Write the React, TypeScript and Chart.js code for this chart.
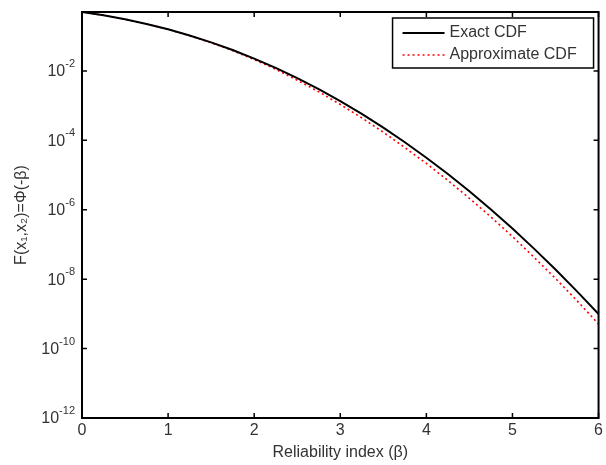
import React, { useEffect, useRef } from "react";
import { Chart, registerables } from "chart.js";

Chart.register(...registerables);

const beta = [0, 0.25, 0.5, 0.75, 1, 1.25, 1.5, 1.75, 2, 2.25, 2.5, 2.75, 3, 3.25, 3.5, 3.75, 4, 4.25, 4.5, 4.75, 5, 5.25, 5.5, 5.75, 6];
const exactCdf = [0.5, 0.4013, 0.3085, 0.2266, 0.1587, 0.1056, 0.0668, 0.0401, 0.02275, 0.01222, 0.00621, 0.00298, 0.00135, 5.77e-4, 2.33e-4, 8.84e-5, 3.17e-5, 1.07e-5, 3.4e-6, 1.02e-6, 2.87e-7, 7.6e-8, 1.9e-8, 4.46e-9, 9.87e-10];
const approxCdf = [0.5, 0.4013, 0.3085, 0.226, 0.1575, 0.104, 0.065, 0.0385, 0.0213, 0.0112, 0.0054, 0.00252, 0.00108, 4.45e-4, 1.72e-4, 6.2e-5, 2.16e-5, 7.0e-6, 2.14e-6, 6.2e-7, 1.69e-7, 4.3e-8, 1.05e-8, 2.4e-9, 5.1e-10];
const xTickValues = [0, 1, 2, 3, 4, 5, 6];
const yTickExponents = [-12, -10, -8, -6, -4, -2];
const seriesLabels = ["Exact CDF", "Approximate CDF"];
const xTitle = "Reliability index (β)";
const yTitle = "F(x₁,x₂)=Φ(-β)";

const FONT = "'Liberation Sans', Arial, sans-serif";
const TEXT = "#333333";

const framePlugin = {
  id: "matlabFrame",
  afterDraw(chart: any) {
    const { ctx, chartArea: a, scales } = chart;
    const tl = 5;
    ctx.save();
    ctx.strokeStyle = "#000";
    ctx.lineWidth = 1.5;
    ctx.beginPath();
    for (const v of xTickValues) {
      const px = scales.x.getPixelForValue(v);
      ctx.moveTo(px, a.bottom);
      ctx.lineTo(px, a.bottom - tl);
      ctx.moveTo(px, a.top);
      ctx.lineTo(px, a.top + tl);
    }
    for (const e of yTickExponents) {
      const py = scales.y.getPixelForValue(Math.pow(10, e));
      ctx.moveTo(a.left, py);
      ctx.lineTo(a.left + tl, py);
      ctx.moveTo(a.right, py);
      ctx.lineTo(a.right - tl, py);
    }
    ctx.stroke();
    ctx.lineWidth = 2;
    ctx.strokeRect(a.left, a.top, a.right - a.left, a.bottom - a.top);

    // y tick labels: base 10 with superscript exponent
    ctx.fillStyle = TEXT;
    ctx.textBaseline = "middle";
    for (const e of yTickExponents) {
      const py = scales.y.getPixelForValue(Math.pow(10, e));
      const expStr = String(e);
      ctx.font = `11px ${FONT}`;
      const ew = ctx.measureText(expStr).width;
      const right = a.left - 7;
      ctx.textAlign = "left";
      ctx.fillText(expStr, right - ew, py - 7);
      ctx.font = `16px ${FONT}`;
      ctx.textAlign = "right";
      ctx.fillText("10", right - ew, py + 1);
    }

    // legend
    const w = 201, h = 50;
    const lx = a.right - 5 - w;
    const ly = a.top + 6;
    ctx.fillStyle = "#fff";
    ctx.fillRect(lx, ly, w, h);
    ctx.lineWidth = 1.5;
    ctx.strokeStyle = "#000";
    ctx.strokeRect(lx, ly, w, h);
    const rows = [ly + 15, ly + 37];
    chart.data.datasets.forEach((ds: any, i: number) => {
      ctx.save();
      ctx.strokeStyle = ds.borderColor;
      ctx.lineWidth = ds.borderWidth;
      ctx.setLineDash(ds.borderDash || []);
      ctx.beginPath();
      ctx.moveTo(lx + 10, rows[i]);
      ctx.lineTo(lx + 52, rows[i]);
      ctx.stroke();
      ctx.restore();
      ctx.fillStyle = TEXT;
      ctx.font = `16px ${FONT}`;
      ctx.textBaseline = "middle";
      ctx.textAlign = "left";
      ctx.fillText(ds.label, lx + 57, rows[i]);
    });
    ctx.restore();
  },
};

export default function App() {
  const ref = useRef<HTMLCanvasElement | null>(null);
  useEffect(() => {
    if (!ref.current) return;
    const chart = new Chart(ref.current, {
      type: "line",
      data: {
        datasets: [
          {
            label: seriesLabels[0],
            data: beta.map((b, i) => ({ x: b, y: exactCdf[i] })),
            borderColor: "#000000",
            borderWidth: 2,
            pointRadius: 0,
            fill: false,
          },
          {
            label: seriesLabels[1],
            data: beta.map((b, i) => ({ x: b, y: approxCdf[i] })),
            borderColor: "#ff0000",
            borderWidth: 1.6,
            borderDash: [2, 3],
            pointRadius: 0,
            fill: false,
          },
        ],
      },
      options: {
        responsive: false,
        animation: false,
        devicePixelRatio: 1,
        layout: { padding: { top: 12, right: 3, left: 0, bottom: 0 } },
        plugins: { legend: { display: false }, tooltip: { enabled: false } },
        scales: {
          x: {
            type: "linear",
            min: 0,
            max: 6,
            grid: { display: false, drawTicks: false },
            border: { display: false },
            afterBuildTicks: (s: any) => {
              s.ticks = xTickValues.map((v) => ({ value: v }));
            },
            afterFit: (s: any) => {
              s.height = 47;
            },
            ticks: { color: TEXT, font: { family: FONT, size: 16 }, padding: 3, maxRotation: 0, callback: (v: any) => String(v) },
            title: { display: true, text: xTitle, color: TEXT, font: { family: FONT, size: 16 }, padding: { top: 0, bottom: 3 } },
          },
          y: {
            type: "logarithmic",
            min: 1e-12,
            max: 0.5,
            grid: { display: false, drawTicks: false },
            border: { display: false },
            afterBuildTicks: (s: any) => {
              s.ticks = yTickExponents.map((e) => ({ value: Math.pow(10, e) }));
            },
            afterFit: (s: any) => {
              s.width = 82;
            },
            ticks: { display: false },
            title: { display: true, text: yTitle, color: TEXT, font: { family: FONT, size: 16 }, padding: { top: 12, bottom: 0 } },
          },
        },
      },
      plugins: [framePlugin],
    } as any);
    return () => chart.destroy();
  }, []);
  return (
    <div style={{ position: "fixed", left: 0, top: 0, width: 606, height: 465, background: "#fff" }}>
      <canvas ref={ref} width={606} height={465} style={{ display: "block" }} />
    </div>
  );
}
